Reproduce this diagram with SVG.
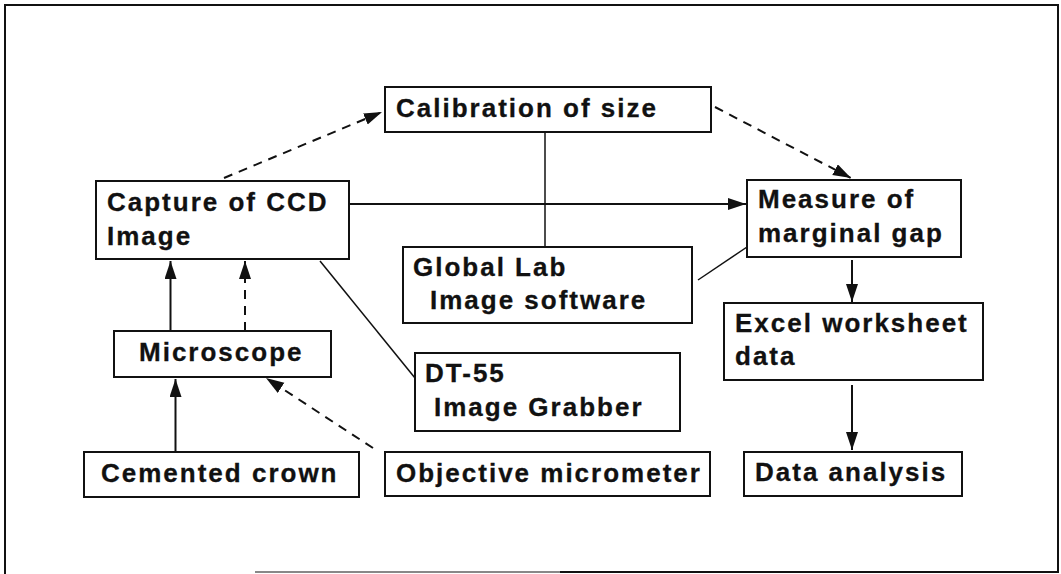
<svg xmlns="http://www.w3.org/2000/svg" width="1061" height="574" viewBox="0 0 1061 574">
<style>
.box{fill:#fff;stroke:#111;stroke-width:2}
.t{font-family:"Liberation Sans",Arial,sans-serif;font-weight:bold;font-size:26px;letter-spacing:2px;fill:#111;stroke:#111;stroke-width:0.3}
.c{fill:none;stroke:#111;stroke-width:2}
.d{stroke-dasharray:9 7}
.thin{fill:none;stroke:#111;stroke-width:1.5}
</style>
<defs>
<marker id="ah" markerUnits="userSpaceOnUse" markerWidth="20" markerHeight="14" refX="18" refY="6" orient="auto">
<path d="M0,0 L18,6 L0,12 z" fill="#111"/>
</marker>
</defs>
<g id="frame" fill="none" stroke="#111" stroke-width="2">
<path d="M5,574 L5,5 L1058,5 L1058,572 L560,572"/>
<line x1="560" y1="572" x2="255" y2="572" stroke="#888"/>
</g>
<g id="connectors">
<line class="c d" x1="224" y1="178" x2="382" y2="112" marker-end="url(#ah)"/>
<line class="c d" x1="715" y1="107" x2="851" y2="178" marker-end="url(#ah)"/>
<line class="c" x1="349" y1="204" x2="746" y2="204" marker-end="url(#ah)"/>
<line class="thin" x1="545" y1="132" x2="545" y2="247"/>
<line class="thin" x1="698" y1="280" x2="747" y2="247"/>
<line class="thin" x1="320" y1="261" x2="415" y2="378"/>
<line class="c" x1="170.5" y1="331" x2="170.5" y2="261" marker-end="url(#ah)"/>
<line class="c d" x1="245" y1="331" x2="245" y2="261" marker-end="url(#ah)"/>
<line class="c" x1="175.5" y1="452" x2="175.5" y2="379" marker-end="url(#ah)"/>
<line class="c d" x1="373" y1="448" x2="266" y2="378" marker-end="url(#ah)"/>
<line class="c" x1="852" y1="260" x2="852" y2="302" marker-end="url(#ah)"/>
<line class="c" x1="852" y1="385" x2="852" y2="450" marker-end="url(#ah)"/>
</g>
<g id="calibration">
<rect class="box" x="385" y="87" width="326" height="45"/>
<text class="t" x="396" y="117">Calibration of size</text>
</g>
<g id="capture">
<rect class="box" x="96" y="181" width="253" height="78"/>
<text class="t" x="107" y="211">Capture of CCD</text>
<text class="t" x="107" y="245">Image</text>
</g>
<g id="measure">
<rect class="box" x="747" y="180" width="214" height="77"/>
<text class="t" x="758" y="208">Measure of</text>
<text class="t" x="758" y="242">marginal gap</text>
</g>
<g id="globallab">
<rect class="box" x="403" y="247" width="289" height="76"/>
<text class="t" x="413" y="276">Global Lab</text>
<text class="t" x="430" y="309">Image software</text>
</g>
<g id="excel">
<rect class="box" x="724" y="303" width="259" height="77"/>
<text class="t" x="735" y="332">Excel worksheet</text>
<text class="t" x="735" y="365">data</text>
</g>
<g id="microscope">
<rect class="box" x="114" y="331" width="217" height="46"/>
<text class="t" x="139" y="361">Microscope</text>
</g>
<g id="dt55">
<rect class="box" x="415" y="353" width="265" height="78"/>
<text class="t" x="425" y="382">DT-55</text>
<text class="t" x="434" y="416">Image Grabber</text>
</g>
<g id="cemented">
<rect class="box" x="84" y="452" width="275" height="45"/>
<text class="t" x="101" y="482">Cemented crown</text>
</g>
<g id="objective">
<rect class="box" x="385" y="452" width="325" height="44"/>
<text class="t" x="396" y="482">Objective micrometer</text>
</g>
<g id="analysis">
<rect class="box" x="744" y="452" width="218" height="44"/>
<text class="t" x="755" y="481">Data analysis</text>
</g>
</svg>
